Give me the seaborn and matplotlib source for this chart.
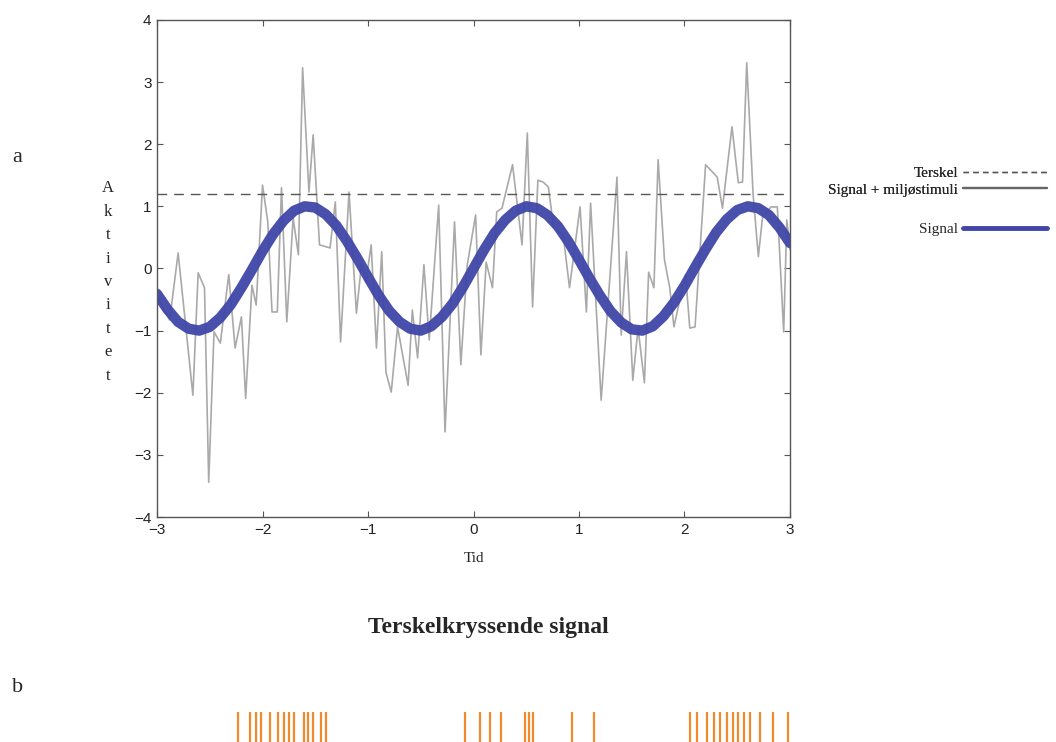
import numpy as np
import matplotlib
matplotlib.use("Agg")
import matplotlib.pyplot as plt
from matplotlib.lines import Line2D
import seaborn as sns

# ---------------------------------------------------------
# Data
# ---------------------------------------------------------
tid_signal = np.linspace(-3, 3, 61)
signal = [-0.41, -0.66, -0.86, -0.97, -1.00, -0.94, -0.79, -0.58, -0.31, -0.02,
          0.28, 0.55, 0.77, 0.93, 1.00, 0.98, 0.87, 0.69, 0.44, 0.16,
          -0.14, -0.43, -0.68, -0.86, -0.97, -1.00, -0.93, -0.78, -0.57, -0.30,
          0.00,
          0.30, 0.57, 0.78, 0.93, 1.00, 0.97, 0.86, 0.68, 0.43, 0.14,
          -0.16, -0.44, -0.69, -0.87, -0.98, -1.00, -0.93, -0.77, -0.55, -0.28,
          0.02, 0.31, 0.58, 0.79, 0.94, 1.00, 0.97, 0.86, 0.66, 0.41]

tid_stoy = [-3.00, -2.88, -2.80, -2.66, -2.61, -2.55, -2.51, -2.46, -2.40, -2.32,
            -2.26, -2.20, -2.16, -2.10, -2.06, -2.00, -1.95, -1.91, -1.86, -1.82,
            -1.77, -1.71, -1.66, -1.62, -1.56, -1.52, -1.46, -1.36, -1.31, -1.26,
            -1.18, -1.11, -1.06, -1.02, -0.97, -0.92, -0.87, -0.83, -0.78, -0.72,
            -0.62, -0.58, -0.53, -0.47, -0.42, -0.33, -0.27, -0.18, -0.12, -0.06,
            0.02, 0.07, 0.12, 0.18, 0.22, 0.27, 0.37, 0.46, 0.51, 0.56,
            0.61, 0.66, 0.71, 0.76, 0.85, 0.91, 1.01, 1.07, 1.11, 1.21,
            1.36, 1.40, 1.45, 1.51, 1.56, 1.62, 1.66, 1.71, 1.75, 1.81,
            1.86, 1.90, 1.95, 2.01, 2.05, 2.10, 2.20, 2.31, 2.36, 2.45,
            2.51, 2.55, 2.59, 2.65, 2.70, 2.74, 2.82, 2.88, 2.94, 2.97, 3.00]
signal_stoy = [-0.45, -0.83, 0.25, -2.04, -0.07, -0.31, -3.44, -1.02, -1.20, -0.10,
               -1.28, -0.78, -2.09, -0.27, -0.59, 1.34, 0.75, -0.70, -0.70, 1.30,
               -0.86, 0.81, 0.22, 3.23, 1.23, 2.15, 0.38, 0.33, 1.07, -1.18,
               1.23, -0.72, 0.10, -0.22, 0.38, -1.28, 0.27, -1.67, -1.99, -0.94,
               -1.88, -0.67, -1.44, 0.06, -1.15, 1.02, -2.63, 0.75, -1.55, 0.05,
               0.86, -1.39, 0.10, -0.31, 0.91, 0.97, 1.67, 0.38, 2.18, -0.62,
               1.42, 1.39, 1.31, 0.65, 0.54, -0.31, 0.99, -0.70, 1.05, -2.12,
               1.47, -1.07, 0.27, -1.80, -0.96, -1.84, -0.06, -0.31, 1.75, 0.14,
               -0.31, -0.94, -0.55, -0.10, -0.96, -0.94, 1.67, 1.47, 0.97, 2.28,
               1.38, 1.39, 3.31, 1.20, 0.19, 0.83, 0.99, 0.99, -1.02, 0.78, 0.30]

terskel = 1.2

# tidspunkt for terskelkryssing (panel b)
spikes = [-2.23, -2.12, -2.06, -2.01, -1.93, -1.85, -1.80, -1.75, -1.70, -1.61,
          -1.57, -1.52, -1.45, -1.40,
          -0.08, 0.06, 0.16, 0.26, 0.49, 0.53, 0.56, 0.93, 1.14,
          2.05, 2.12, 2.21, 2.28, 2.34, 2.40, 2.46, 2.51, 2.56, 2.62, 2.72,
          2.84, 2.98]

x_ticks = [-3, -2, -1, 0, 1, 2, 3]
y_ticks = [-4, -3, -2, -1, 0, 1, 2, 3, 4]

# ---------------------------------------------------------
# Style
# ---------------------------------------------------------
sns.set_style("ticks")
plt.rcParams['font.family'] = ['Liberation Serif', 'DejaVu Serif']

blue = "#3f46a8"
grey = "#a9a9a9"
orange = "#f08a2c"
serif = ['Liberation Serif', 'DejaVu Serif']
sans = ['Liberation Sans', 'DejaVu Sans']

fig = plt.figure(figsize=(10.56, 7.42), dpi=100)
ax = fig.add_axes([0.1487, 0.3032, 0.5994, 0.670])

sns.lineplot(x=tid_stoy, y=signal_stoy, ax=ax, color=grey, linewidth=1.2,
             sort=False, estimator=None)
sns.lineplot(x=tid_signal, y=signal, ax=ax, color=blue, linewidth=7.5,
             sort=False, estimator=None, alpha=0.95)
ax.axhline(terskel, color="#555555", linewidth=1.0, linestyle=(0, (7, 5)))

ax.set_xlim(-3, 3)
ax.set_ylim(-4, 4)
ax.set_xticks(x_ticks)
ax.set_yticks(y_ticks)
ax.tick_params(direction="in", length=4, width=0.8, color="#555555",
               labelsize=11, top=True, right=True, pad=4)
for lab in ax.get_xticklabels() + ax.get_yticklabels():
    lab.set_fontfamily(sans)
    lab.set_color("#222222")
for s in ax.spines.values():
    s.set_color("#555555")
    s.set_linewidth(1.0)

ax.set_xlabel("Tid", fontsize=11, labelpad=11)
ax.set_ylabel("")

# vertikal y-etikett, bokstav for bokstav
fig.text(108 / 1056, 1 - 282 / 742, "A\nk\nt\ni\nv\ni\nt\ne\nt",
         ha="center", va="center", fontsize=12, linespacing=1.62,
         family=serif)

fig.text(12 / 1056, 1 - 157 / 742, "a", fontsize=16, family=serif,
         va="center", ha="left")
fig.text(12 / 1056, 1 - 688 / 742, "b", fontsize=16, family=serif,
         va="center", ha="left")
fig.text(488 / 1056, 1 - 627 / 742, "Terskelkryssende signal", fontsize=17,
         fontweight="bold", family=serif, ha="center", va="center")

# legend til høyre
h1 = [Line2D([], [], color="#555555", linewidth=1.0, linestyle=(0, (4, 3))),
      Line2D([], [], color="#666666", linewidth=1.6)]
leg1 = fig.legend(h1, ["Terskel", "Signal + miljøstimuli"], loc="upper right",
                  bbox_to_anchor=(1.0, 1 - 157 / 742), frameon=False,
                  markerfirst=False, fontsize=11, handlelength=5.5,
                  handletextpad=0.3, labelspacing=0.2, borderaxespad=0.2)
h2 = [Line2D([], [], color=blue, linewidth=3.5)]
fig.legend(h2, ["Signal"], loc="upper right",
           bbox_to_anchor=(1.0, 1 - 213 / 742), frameon=False,
           markerfirst=False, fontsize=11, handlelength=5.5,
           handletextpad=0.3, borderaxespad=0.2)
fig.add_artist(leg1)

# panel b: terskelkryssinger
ax2 = fig.add_axes([0.1487, 0.0, 0.5994, 0.0404])
sns.rugplot(x=spikes, ax=ax2, height=1.0, color=orange, linewidth=1.6)
ax2.set_xlim(-3, 3)
ax2.set_ylim(0, 1)
ax2.axis("off")

fig.savefig("out.png", dpi=100)
